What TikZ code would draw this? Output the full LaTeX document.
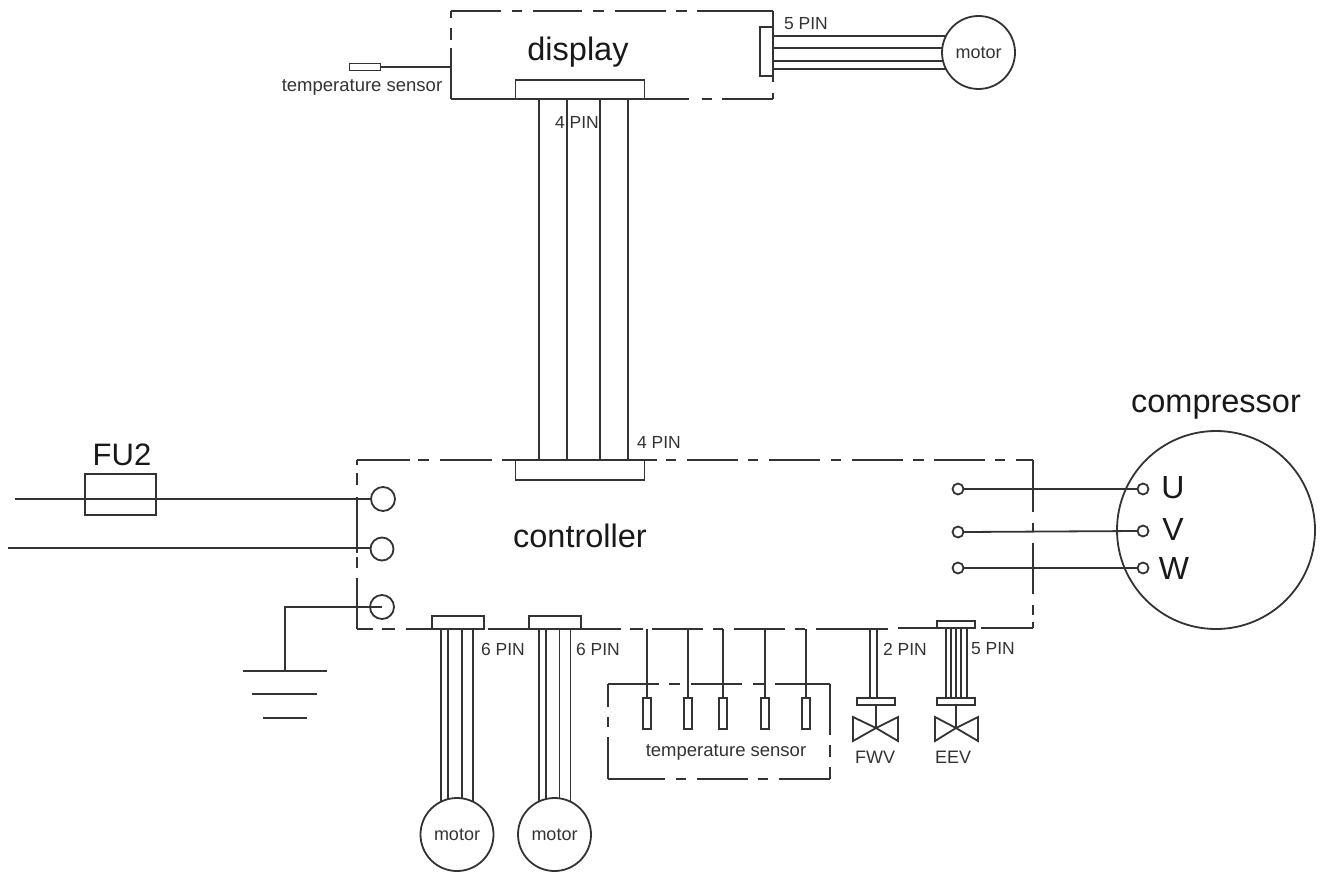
\documentclass[tikz,border=0pt]{standalone}
\usepackage{fontspec}
\setmainfont{Liberation Sans}
\begin{document}
\begin{tikzpicture}[x=1pt,y=-1pt,
  line/.style={draw=black!80,line width=1.8pt},
  thin line/.style={draw=black!80,line width=1.5pt},
  area/.style={rectangle,inner sep=0pt,outer sep=0pt},
  block/.style={area,line,fill=white},
  round/.style={circle,inner sep=0pt,outer sep=0pt,line,minimum size=#1},
  big/.style={inner sep=0pt,text=black!90,font=\fontsize{32.5}{34}\selectfont},
  small/.style={inner sep=0pt,text=black!80,font=\fontsize{18.5}{21}\selectfont},
  pin/.style={inner sep=0pt,text=black!80,font=\fontsize{17.5}{19}\selectfont},
  sens/.style={area,line,thin line,minimum width=8,minimum height=31}]
\useasboundingbox (0,0) rectangle (1324,872);

% --- box areas (outlines are drawn as broken segments below)
\node[area,minimum width=322,minimum height=88] (disp) at (612,55) {};
\node[area,minimum width=676,minimum height=169] (ctrl) at (695,544.5) {};
\node[area,minimum width=222,minimum height=95] (sbox) at (719,731.5) {};

% display outline
\foreach \a/\b in {451/501,512/522,533/582,593/604,615/666,676/687,697/773}
  \draw[line] (\a,0 |- disp.north) -- (\b,0 |- disp.north);
\foreach \a/\b in {451/689,702/712,722/773}
  \draw[line] (\a,0 |- disp.south) -- (\b,0 |- disp.south);
\foreach \a/\b in {11/18,28/40,48/99}
  \draw[line] (disp.west |- 0,\a) -- (disp.west |- 0,\b);
\foreach \a/\b in {11/27,76/82,93/99}
  \draw[line] (disp.east |- 0,\a) -- (disp.east |- 0,\b);

% controller outline
\foreach \a/\b in {357/410,418/429,440/492,502/657,666/676,687/738,748/758,769/820,831/841,852/903,913/924,934/985,995/1005,1016/1033}
  \draw[line] (\a,0 |- ctrl.north) -- (\b,0 |- ctrl.north);
\foreach \a/\b in {357/373,382/395,406/484,488/621,630/643,652/703,713/723,734/785,795/805,816/888}
  \draw[line] (\a,0 |- ctrl.south) -- (\b,0 |- ctrl.south);
\foreach \a/\b in {898/937,981/1033}
  \draw[line] (\a,628) -- (\b,628);
\foreach \a/\b in {460/465,473/485,497/553,557/568,578/629}
  \draw[line] (ctrl.west |- 0,\a) -- (ctrl.west |- 0,\b);
\foreach \a/\b in {460/512,523/532,543/594,605/615,622/628}
  \draw[line] (ctrl.east |- 0,\a) -- (ctrl.east |- 0,\b);

% sensor box outline
\foreach \a/\b in {608/659,669/680,691/742,753/764,775/830}
  \draw[line] (\a,0 |- sbox.north) -- (\b,0 |- sbox.north);
\foreach \a/\b in {608/665,676/686,697/748,758/768,779/830}
  \draw[line] (\a,0 |- sbox.south) -- (\b,0 |- sbox.south);
\foreach \a/\b in {684/707,717/727,737/779}
  \draw[line] (sbox.west |- 0,\a) -- (sbox.west |- 0,\b);
\foreach \a/\b in {684/735,745/757,767/779}
  \draw[line] (sbox.east |- 0,\a) -- (sbox.east |- 0,\b);

% --- connectors blocks
\node[block,minimum width=129,minimum height=19] (dc) at (580,89.5) {};
\node[block,minimum width=13,minimum height=49] (dr) at (766.5,51.5) {};
\node[block,minimum width=129,minimum height=20] (cc) at (580,470) {};
\node[block,minimum width=52,minimum height=13] (c6a) at (458,622.5) {};
\node[block,minimum width=52,minimum height=13] (c6b) at (555,622.5) {};
\node[block,minimum width=38,minimum height=7] (fbar) at (876,701.5) {};
\node[block,minimum width=38,minimum height=7] (eetop) at (956,624.5) {};
\node[block,minimum width=38,minimum height=7] (ebar) at (956,701.5) {};

% --- motors
\node[round=73,font=\fontsize{18}{20}\selectfont,text=black!80] (mt) at (978.5,52.5) {motor};
\node[round=73,font=\fontsize{18}{20}\selectfont,text=black!80] (m1) at (457,834.5) {motor};
\node[round=73,font=\fontsize{18}{20}\selectfont,text=black!80] (m2) at (554.5,834.5) {motor};

% --- compressor
\node[round=198] (comp) at (1216,530) {};
\node[big] at (1216,407) {compressor};
\node[round=11] (pu) at (1143,489) {};
\node[round=11] (pv) at (1143,531) {};
\node[round=11] (pw) at (1143,568) {};
\node[big,font=\fontsize{32}{34}\selectfont] at (1173,488) {U};
\node[big,font=\fontsize{32}{34}\selectfont] at (1173,529) {V};
\node[big,font=\fontsize{32}{34}\selectfont] at (1174,568) {W};

% --- controller terminals
\node[round=24] (l1) at (383,499) {};
\node[round=23] (l2) at (382,549) {};
\node[round=24] (l3) at (382,607) {};
\node[round=11] (r1) at (958,489) {};
\node[round=11] (r2) at (958,532) {};
\node[round=11] (r3) at (958,568) {};

% --- wires display <-> controller
\foreach \x in {539,567,600,628}
  \draw[line] (\x,0 |- dc.south) -- (\x,0 |- cc.north);
% 5 PIN to top motor
\foreach \ang in {153,173,193,207}
  \draw[line] (dr.east |- mt.\ang) -- (mt.\ang);
% 6 PIN to motors
\foreach \ang in {116,104,82,64}
  \draw[line] (m1.\ang |- c6a.south) -- (m1.\ang);
\foreach \ang in {115,103,82,64}
  \draw[line] (m2.\ang |- c6b.south) -- (m2.\ang);

% --- compressor wires
\draw[line] (r1.east) -- (pu.west);
\draw[line] (r2.east) -- (pv.west);
\draw[line] (r3.east) -- (pw.west);

% --- mains input and fuse
\coordinate (in1) at (15,499);
\coordinate (in2) at (8,548);
\node[block,fill=none,minimum width=71,minimum height=41] (fuse) at (120.5,494.5) {};
\node[big,font=\fontsize{31}{33}\selectfont] at (122,455) {FU2};
\draw[line] (in1) -- (l1.west |- in1);
\draw[line] (in2) -- (l2.west |- in2);

% --- ground
\coordinate (gtop) at (285,671);
\coordinate (g1a) at (243,671);
\coordinate (g1b) at (327,671);
\coordinate (g2a) at (252,694);
\coordinate (g2b) at (317,694);
\coordinate (g3a) at (263,718);
\coordinate (g3b) at (307,718);
\draw[line] (l3.center) -| (gtop);
\draw[line] (g1a) -- (g1b);
\draw[line] (g2a) -- (g2b);
\draw[line] (g3a) -- (g3b);

% --- top temperature sensor
\node[area,line,thin line,minimum width=31,minimum height=7] (ts) at (365,67) {};
\draw[line] (ts.east) -- (ts.east -| disp.west);
\node[small] at (362,87) {temperature sensor};

% --- lower temperature sensors
\foreach \n/\x in {s1/647,s2/688,s3/723,s4/765,s5/806}{
  \node[sens] (\n) at (\x,713.5) {};
  \draw[line] (\n.north) -- (\n.north |- ctrl.south);
}
\node[small] at (726,752) {temperature sensor};

% --- valves
\node[area,minimum size=0pt] (fv) at (876,728) {};
\node[area,minimum size=0pt] (ev) at (956,728) {};
\draw[line,line join=miter] (fv.center) -- ++(-23,-11) -- ++(0,24) -- cycle;
\draw[line,line join=miter] (fv.center) -- ++(22,-11) -- ++(0,24) -- cycle;
\draw[line,line join=miter] (ev.center) -- ++(-21,-11) -- ++(0,24) -- cycle;
\draw[line,line join=miter] (ev.center) -- ++(22,-11) -- ++(0,24) -- cycle;
\draw[line] (fbar.south) -- (fv.center);
\draw[line] (ebar.south) -- (ev.center);
\foreach \x in {870,877}
  \draw[line] (\x,0 |- ctrl.south) -- (\x,0 |- fbar.north);
\foreach \x in {946,951,956,961,967}
  \draw[thin line] (\x,0 |- eetop.south) -- (\x,0 |- ebar.north);
\node[pin,font=\fontsize{18}{20}\selectfont] at (875,757) {FWV};
\node[pin,font=\fontsize{18}{20}\selectfont] at (953,757) {EEV};

% --- main labels
\node[big] at (578,52) {display};
\node[big] at (580,536) {controller};

% --- pin labels
\node[pin] at (577,122) {4 PIN};
\node[pin] at (659,442) {4 PIN};
\node[pin] at (806,24) {5 PIN};
\node[pin] at (503,649) {6 PIN};
\node[pin] at (598,649) {6 PIN};
\node[pin] at (905,649) {2 PIN};
\node[pin] at (993,649) {5 PIN};
\end{tikzpicture}
\end{document}
